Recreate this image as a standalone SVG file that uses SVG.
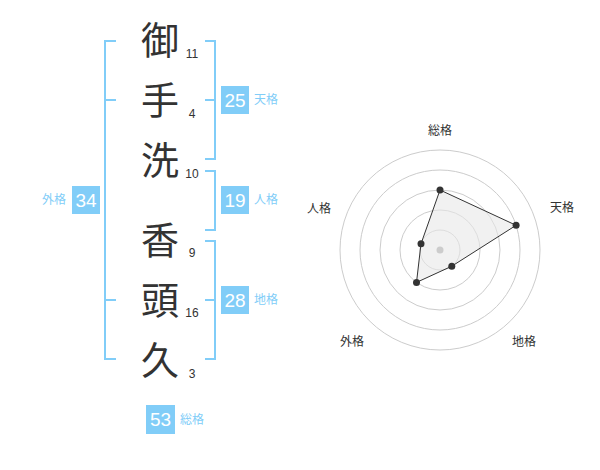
<svg xmlns="http://www.w3.org/2000/svg" width="600" height="470" viewBox="0 0 600 470">
<style>
.kanji{font-family:"Noto Sans CJK JP","Noto Sans CJK SC",sans-serif;font-size:38px;fill:#333;text-anchor:middle}
.num{font-family:"Liberation Sans",Arial,sans-serif;font-size:12px;fill:#333;text-anchor:middle}
.br{fill:none;stroke:#81cdf8;stroke-width:2}
.box{fill:#81cdf8}
.bt{font-family:"Liberation Sans",Arial,sans-serif;font-size:19px;fill:#fff;text-anchor:middle}
.lab{font-family:"Liberation Sans","Noto Sans CJK JP",sans-serif;font-size:12px;fill:#81cdf8}
.ring{fill:none;stroke:#ccc;stroke-width:1}
.rl{font-family:"Liberation Sans","Noto Sans CJK JP",sans-serif;font-size:12px;fill:#333;text-anchor:middle}
.pt{fill:#333}
</style>
<rect width="600" height="470" fill="#fff"/>
<g id="chars">
<g id="c1"><text class="kanji" x="160" y="54">御</text><text class="num" x="192" y="58">11</text></g>
<g id="c2"><text class="kanji" x="160" y="114">手</text><text class="num" x="192" y="118">4</text></g>
<g id="c3"><text class="kanji" x="160" y="174">洗</text><text class="num" x="192" y="178">10</text></g>
<g id="c4"><text class="kanji" x="160" y="254">香</text><text class="num" x="192" y="257">9</text></g>
<g id="c5"><text class="kanji" x="160" y="314">頭</text><text class="num" x="192" y="317">16</text></g>
<g id="c6"><text class="kanji" x="160" y="374">久</text><text class="num" x="192" y="378">3</text></g>
</g>
<g id="connectors">
<path class="br" d="M205,41H215V159H205M205,100H215"/>
<path class="br" d="M205,171H215V230H205"/>
<path class="br" d="M205,241H215V359H205M205,300H215"/>
<path class="br" d="M116,41H105V359H116M105,100H116M105,300H116"/>
</g>
<g id="tenkaku"><rect class="box" x="221" y="86" width="28" height="28"/><text class="bt" x="235" y="107">25</text><text class="lab" x="254" y="104">天格</text></g>
<g id="jinkaku"><rect class="box" x="221" y="186" width="28" height="28"/><text class="bt" x="235" y="207">19</text><text class="lab" x="254" y="204">人格</text></g>
<g id="chikaku"><rect class="box" x="221" y="286" width="28" height="28"/><text class="bt" x="235" y="307">28</text><text class="lab" x="254" y="304">地格</text></g>
<g id="gaikaku"><rect class="box" x="72" y="186" width="28" height="28"/><text class="bt" x="86" y="207">34</text><text class="lab" x="66" y="204" text-anchor="end">外格</text></g>
<g id="soukaku"><rect class="box" x="146" y="405" width="29" height="29"/><text class="bt" x="160.5" y="426">53</text><text class="lab" x="180" y="424">総格</text></g>
<g id="radar">
<circle class="ring" cx="440" cy="250" r="100"/>
<circle class="ring" cx="440" cy="250" r="80"/>
<circle class="ring" cx="440" cy="250" r="60"/>
<circle class="ring" cx="440" cy="250" r="40"/>
<circle class="ring" cx="440" cy="250" r="20"/>
<polygon points="440,190 516.1,225.3 451.8,266.2 416.5,282.4 421,243.8" fill="#e8e8e8" fill-opacity="0.6" stroke="#333" stroke-width="1"/>
<circle cx="440" cy="250" r="3.5" fill="#ccc"/>
<circle class="pt" cx="440" cy="190" r="3.5"/>
<circle class="pt" cx="516.1" cy="225.3" r="3.5"/>
<circle class="pt" cx="451.8" cy="266.2" r="3.5"/>
<circle class="pt" cx="416.5" cy="282.4" r="3.5"/>
<circle class="pt" cx="421" cy="243.8" r="3.5"/>
<text class="rl" x="440" y="135">総格</text>
<text class="rl" x="562" y="212">天格</text>
<text class="rl" x="319" y="213">人格</text>
<text class="rl" x="352" y="346">外格</text>
<text class="rl" x="524" y="346">地格</text>
</g>
</svg>
